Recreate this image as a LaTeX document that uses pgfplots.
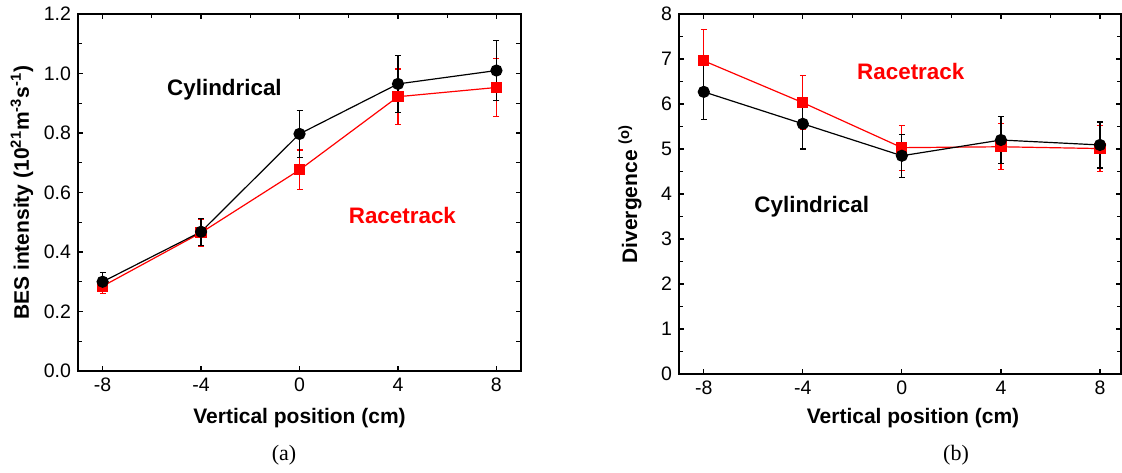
\documentclass[border=0pt]{standalone}
\usepackage{pgfplots}
\pgfplotsset{compat=1.18}
\usepackage{pgfplotstable}
\usepackage{fontspec}
\setmainfont{Liberation Sans}
\newfontfamily\capfont{Liberation Serif}

\pgfplotstableread{
x y e
-8 0.300 0.030
-4 0.468 0.045
0 0.797 0.078
4 0.965 0.095
8 1.010 0.100
}\cylA
\pgfplotstableread{
x y e
-8 0.285 0.025
-4 0.465 0.045
0 0.676 0.067
4 0.922 0.093
8 0.953 0.097
}\raceA
\pgfplotstableread{
x y e
-8 6.27 0.62
-4 5.56 0.56
0 4.85 0.48
4 5.20 0.52
8 5.09 0.51
}\cylB
\pgfplotstableread{
x y e
-8 6.96 0.69
-4 6.03 0.60
0 5.03 0.50
4 5.05 0.51
8 5.01 0.51
}\raceB

\begin{document}
\begin{tikzpicture}
\path[use as bounding box] (0pt,0pt) rectangle (561pt,236pt);
\pgfplotsset{
  panel/.style={scale only axis, anchor=south west, xmin=-9,
    tick align=inside,
    axis line style={line width=0.6pt},
    major tick length=2.5pt, minor tick length=1.8pt,
    every tick/.style={black, line width=0.6pt},
    ticklabel style={font=\fontsize{9.75}{11}\selectfont},
    label style={font=\bfseries\fontsize{10.5}{12}\selectfont},
  },
  cyl/.style={black, line width=0.6pt, mark=*, mark size=2.75pt,
    mark options={solid, fill=black},
    error bars/.cd, y dir=both, y explicit,
    error bar style={line width=0.6pt, black},
    error mark options={rotate=90, mark size=1.5pt, line width=0.6pt, black}},
  race/.style={red, line width=0.6pt, mark=square*, mark size=2.5pt,
    mark options={solid, fill=red},
    error bars/.cd, y dir=both, y explicit,
    error bar style={line width=0.6pt, red},
    error mark options={rotate=90, mark size=1.5pt, line width=0.6pt, red}},
}
% ---------------- panel (a) ----------------
\begin{axis}[panel, at={(39pt,50.5pt)}, width=221.5pt, height=178.5pt,
  xmax=9, ymin=0, ymax=1.2,
  xtick={-8,-4,0,4,8}, xticklabels={-8,-4,0,4,8}, xtick pos=left,
  ytick={0,0.2,0.4,0.6,0.8,1.0,1.2},
  yticklabels={0.0,0.2,0.4,0.6,0.8,1.0,1.2},
  minor ytick={0.1,0.3,0.5,0.7,0.9,1.1}, ytick pos=left,
  xlabel={Vertical position (cm)},
  ylabel={BES intensity (10\textsuperscript{21}m\textsuperscript{-3}s\textsuperscript{-1})},
  xlabel style={at={(rel axis cs:0.5,0)}, anchor=center, yshift=-23.5pt},
  ylabel style={at={(rel axis cs:0,0.5)}, anchor=center, yshift=28pt},
]
\addplot[race] table[x=x,y=y,y error=e]{\raceA};
\addplot[cyl] table[x=x,y=y,y error=e]{\cylA};
\node[font=\bfseries\fontsize{11.2}{13}\selectfont] at (axis cs:-3.05,0.945) {Cylindrical};
\node[font=\bfseries\fontsize{11.2}{13}\selectfont, red] at (axis cs:4.18,0.524) {Racetrack};
\end{axis}
\begin{axis}[panel, at={(39pt,50.5pt)}, width=221.5pt, height=178.5pt,
  xmax=9, ymin=0, ymax=1.2,
  xtick={-8,-4,0,4,8}, minor xtick={-6,-2,2,6}, xticklabels={}, xtick pos=right,
  ytick={0,0.1,0.2,0.3,0.4,0.5,0.6,0.7,0.8,0.9,1.0,1.1,1.2}, yticklabels={}, ytick pos=right,
]
\end{axis}
% ---------------- panel (b) ----------------
\begin{axis}[panel, at={(339.5pt,49pt)}, width=221pt, height=180pt,
  xmax=8.85, ymin=0, ymax=8,
  xtick={-8,-4,0,4,8}, xticklabels={-8,-4,0,4,8}, xtick pos=left,
  ytick={0,1,2,3,4,5,6,7,8}, yticklabels={0,1,2,3,4,5,6,7,8},
  minor ytick={0.5,1.5,2.5,3.5,4.5,5.5,6.5,7.5}, ytick pos=left,
  xlabel={Vertical position (cm)},
  ylabel={Divergence \textsuperscript{(o)}},
  xlabel style={at={(rel axis cs:0.5,0)}, anchor=center, yshift=-22pt, xshift=6.5pt},
  ylabel style={at={(rel axis cs:0,0.5)}, anchor=center, yshift=24.5pt},
]
\addplot[race] table[x=x,y=y,y error=e]{\raceB};
\addplot[cyl] table[x=x,y=y,y error=e]{\cylB};
\node[font=\bfseries\fontsize{11.2}{13}\selectfont, red] at (axis cs:0.36,6.73) {Racetrack};
\node[font=\bfseries\fontsize{11.2}{13}\selectfont] at (axis cs:-3.64,3.71) {Cylindrical};
\end{axis}
\begin{axis}[panel, at={(339.5pt,49pt)}, width=221pt, height=180pt,
  xmax=8.85, ymin=0, ymax=8,
  xtick={-8,-4,0,4,8}, minor xtick={-6,-2,2,6}, xticklabels={}, xtick pos=right,
  ytick={0,1,2,3,4,5,6,7,8}, minor ytick={0.5,1.5,2.5,3.5,4.5,5.5,6.5,7.5},
  yticklabels={}, ytick pos=right,
]
\end{axis}
\node[font=\capfont\fontsize{11}{13}\selectfont] at (142pt,8.5pt) {(a)};
\node[font=\capfont\fontsize{11}{13}\selectfont] at (478pt,8.5pt) {(b)};
\end{tikzpicture}
\end{document}
